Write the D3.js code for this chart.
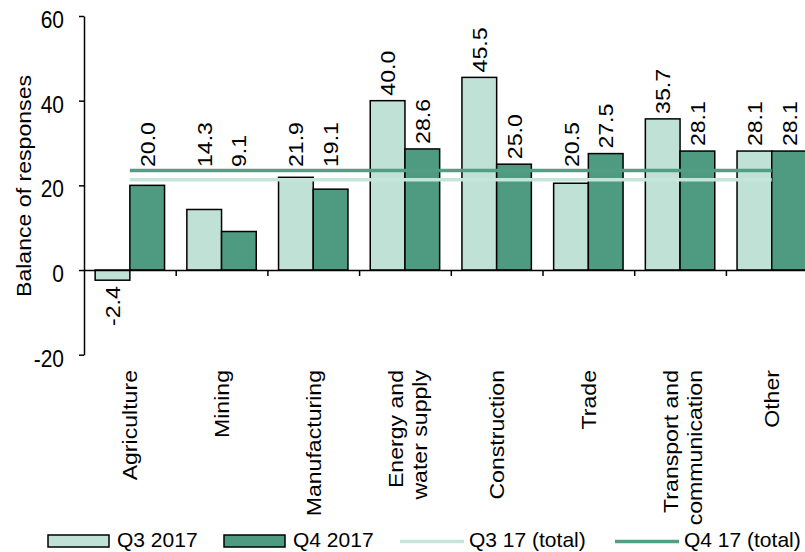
<!DOCTYPE html>
<html><head><meta charset="utf-8">
<script src="https://cdn.jsdelivr.net/npm/d3@7"></script>
<style>
body{margin:0;background:#fff;overflow:hidden}
svg{display:block}
text{font-family:"Liberation Sans",Arial,sans-serif;font-size:21px;fill:#000}
</style>
</head><body>
<svg id="c" width="805" height="552"></svg>
<script>
const categories = ["Agriculture","Mining","Manufacturing","Energy and\nwater supply","Construction","Trade","Transport and\ncommunication","Other"];
const seriesNames = ["Q3 2017","Q4 2017"];
const q3Values = [-2.4,14.3,21.9,40.0,45.5,20.5,35.7,28.1];
const q4Values = [20.0,9.1,19.1,28.6,25.0,27.5,28.1,28.1];
const totalNames = ["Q3 17 (total)","Q4 17 (total)"];
const totalValues = [21.3,23.5];
const yTicks = [-20,0,20,40,60];
const yTitle = "Balance of responses";

const barFill = ["#c0e1d5","#4f9b81"];
const lineColor = ["#c6e5da","#529e84"];
const SY = 1.1;

const svg = d3.select("#c");
const y = d3.scaleLinear().domain([-20,60]).range([354.7,16]);
const x0 = d3.scaleBand().domain(categories).range([84,817.6]).padding(0);
const bw = x0.bandwidth();
const x1 = d3.scaleBand().domain(seriesNames).range([bw*0.1215, bw*0.8785]).padding(0);

const seriesData = [q3Values, q4Values];

// bars
const gBars = svg.append("g");
seriesData.forEach((vals, si) => {
  gBars.selectAll(null).data(vals).enter().append("rect")
    .attr("x", (d,i) => x0(categories[i]) + x1(seriesNames[si]))
    .attr("width", x1.bandwidth())
    .attr("y", d => y(Math.max(0,d)))
    .attr("height", d => Math.abs(y(d) - y(0)))
    .attr("fill", barFill[si])
    .attr("stroke", "#000")
    .attr("stroke-width", 1.5);
});

// total lines
totalValues.forEach((v, si) => {
  svg.append("line")
    .attr("x1", x0(categories[0]) + bw/2)
    .attr("x2", x0(categories[categories.length-1]) + bw/2)
    .attr("y1", y(v)).attr("y2", y(v))
    .attr("stroke", lineColor[si]).attr("stroke-width", 3.5);
});

// y axis
const gy = svg.append("g").attr("transform","translate(84,0)")
  .call(d3.axisLeft(y).tickValues(yTicks).tickSize(5).tickSizeOuter(0).tickFormat(d => String(d)));
gy.select(".domain").attr("stroke-width",1.5);
gy.selectAll(".tick line").attr("stroke-width",1.5);
gy.selectAll(".tick text").attr("x",0).attr("dy",null).attr("y",10.3)
  .attr("text-anchor","end")
  .attr("transform",`translate(-20,0) scale(1,${SY})`)
  .style("font-size","21px").style("font-family","'Liberation Sans',Arial,sans-serif");

// x axis at zero
const xb = d3.scaleLinear().domain([0,categories.length]).range([84,817.6]);
const gx = svg.append("g").attr("transform",`translate(0,${y(0)})`)
  .call(d3.axisBottom(xb).tickValues(d3.range(1,categories.length)).tickSize(6).tickSizeOuter(0).tickFormat(""));
gx.select(".domain").attr("stroke-width",1.5);
gx.selectAll(".tick line").attr("stroke-width",1.5);

// category labels
categories.forEach((c) => {
  const lines = c.split("\n");
  const cx = x0(c) + bw/2;
  const t = svg.append("text")
    .attr("transform",`translate(${cx},370) rotate(-90) scale(${SY},1)`)
    .attr("text-anchor","end");
  if (lines.length === 1) {
    t.append("tspan").attr("x",0).attr("y",7.5).text(lines[0]);
  } else {
    t.append("tspan").attr("x",0).attr("y",-2).text(lines[0]);
    t.append("tspan").attr("x",0).attr("y",22).text(lines[1]);
  }
});

// value labels
seriesData.forEach((vals, si) => {
  vals.forEach((v, i) => {
    const cx = x0(categories[i]) + x1(seriesNames[si]) + x1.bandwidth()/2;
    let ty, anchor;
    if (v >= 0) { ty = Math.min(y(v) - 5, 167); anchor = "start"; }
    else { ty = y(v) + 6; anchor = "end"; }
    svg.append("text")
      .attr("transform",`translate(${cx},${ty}) rotate(-90) scale(${SY},1)`)
      .attr("text-anchor",anchor).attr("y",7.5)
      .text(v.toFixed(1));
  });
});

// y title
svg.append("text")
  .attr("transform",`translate(31,186) rotate(-90) scale(${SY},1)`)
  .attr("text-anchor","middle").text(yTitle);

// legend
const lg = svg.append("g");
const rectLegend = [{x:48,name:seriesNames[0],c:barFill[0]},{x:224,name:seriesNames[1],c:barFill[1]}];
rectLegend.forEach(r => {
  lg.append("rect").attr("x",r.x).attr("y",535).attr("width",61).attr("height",12)
    .attr("fill",r.c).attr("stroke","#000").attr("stroke-width",1.5);
  lg.append("text").attr("x",r.x+69).attr("y",547.3).text(r.name);
});
const lineLegend = [{x:400,name:totalNames[0],c:lineColor[0]},{x:615,name:totalNames[1],c:lineColor[1]}];
lineLegend.forEach(r => {
  lg.append("line").attr("x1",r.x).attr("x2",r.x+64).attr("y1",541.5).attr("y2",541.5)
    .attr("stroke",r.c).attr("stroke-width",3.5);
  lg.append("text").attr("x",r.x+69).attr("y",547.3).text(r.name);
});
</script>
</body></html>
